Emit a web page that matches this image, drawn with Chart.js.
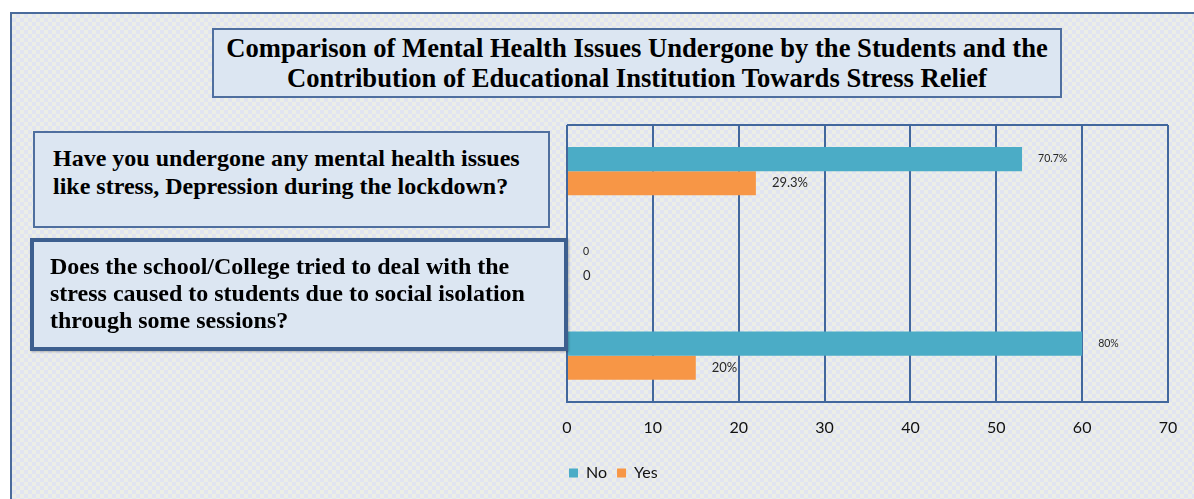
<!DOCTYPE html>
<html>
<head>
<meta charset="utf-8">
<script src="https://cdn.jsdelivr.net/npm/chart.js@4.4.0/dist/chart.umd.min.js"></script>
<style>
  html, body { margin: 0; padding: 0; background: #fff; }
  #frame { position: absolute; left: 0; top: 0; width: 1194px; height: 499px; overflow: hidden; }
  #panel {
    position: absolute; left: 10px; top: 12px; width: 1200px; height: 500px;
    border-left: 2px solid #4a6b9b; border-top: 2px solid #4a6b9b;
    background-color: #e8ebf1;
    background-image: repeating-conic-gradient(#e1e4f1 0 25%, #eceee6 0 50%);
    background-size: 8px 8px;
  }
  #myChart { position: absolute; left: 0; top: 0; }
  .box {
    position: absolute; box-sizing: border-box; background: #dce6f2; color: #000;
    font-family: "Liberation Serif", "Times New Roman", serif; font-weight: bold;
    white-space: nowrap;
  }
  #title {
    left: 212px; top: 28px; width: 850px; height: 70px;
    border: 2px solid #4f6f9f; text-align: center;
    font-size: 26.6px; line-height: 30px; padding-top: 3px;
  }
  #q1 {
    left: 33px; top: 131px; width: 517px; height: 97px;
    border: 2px solid #4f6f9f; font-size: 24px; line-height: 28px;
    padding: 11px 0 0 18px;
  }
  #q2 {
    left: 30px; top: 238px; width: 538px; height: 113px;
    border: 4px solid #3d5f8f; font-size: 24px; line-height: 27px;
    padding: 11px 0 0 16px; box-shadow: 1px 1px 2px rgba(0,0,0,0.25);
  }
</style>
</head>
<body>
<div id="frame">
  <div id="panel"></div>
  <canvas id="myChart" width="1194" height="499"></canvas>
  <div class="box" id="title"></div>
  <div class="box" id="q1"></div>
  <div class="box" id="q2"></div>
</div>
<script>
const chartTitle = ['Comparison of Mental Health Issues Undergone by the Students and the',
                    'Contribution of Educational Institution Towards Stress Relief'];
const questions = [
  ['Have you undergone any mental health issues', 'like stress, Depression during the lockdown?'],
  '',
  ['Does the school/College tried to deal with the', 'stress caused to students due to social isolation', 'through some sessions?']
];
// answer counts per question
const noCounts = [53, 0, 60];
const yesCounts = [22, 0, 15];
const xTicks = [0, 10, 20, 30, 40, 50, 60, 70];

document.getElementById('title').innerHTML = chartTitle.join('<br>');
document.getElementById('q1').innerHTML = questions[0].join('<br>');
document.getElementById('q2').innerHTML = questions[2].join('<br>');

// percentage of respondents, shown next to each bar
function pctLabel(di, i) {
  const total = noCounts[i] + yesCounts[i];
  const v = di === 0 ? noCounts[i] : yesCounts[i];
  if (!total) return '0';
  const p = Math.round(v / total * 1000) / 10;
  return p + '%';
}

const lineColor = '#41679c';

const barLabels = {
  id: 'barLabels',
  afterDatasetsDraw(chart) {
    const ctx = chart.ctx;
    const sizes = [10.5, 13];
    ctx.save();
    ctx.fillStyle = '#262626';
    ctx.textBaseline = 'middle';
    chart.data.datasets.forEach(function(ds, di) {
      chart.getDatasetMeta(di).data.forEach(function(bar, i) {
        ctx.font = sizes[di] + 'px Lato';
        ctx.fillText(pctLabel(di, i), bar.x + 16, bar.y);
      });
    });
    ctx.restore();
  },
  beforeDatasetsDraw(chart) {
    // top edge of the plot frame
    const a = chart.chartArea;
    const ctx = chart.ctx;
    ctx.save();
    ctx.strokeStyle = lineColor;
    ctx.lineWidth = 2;
    ctx.beginPath();
    ctx.moveTo(a.left, a.top);
    ctx.lineTo(a.right, a.top);
    ctx.stroke();
    ctx.restore();
  }
};

new Chart(document.getElementById('myChart'), {
  type: 'bar',
  data: {
    labels: questions,
    datasets: [
      { label: 'No', data: noCounts, backgroundColor: '#4bacc6' },
      { label: 'Yes', data: yesCounts, backgroundColor: '#f79646' }
    ]
  },
  options: {
    indexAxis: 'y',
    responsive: false,
    animation: false,
    categoryPercentage: 0.524,
    barPercentage: 1,
    layout: { padding: { left: 559, right: 26, top: 125, bottom: 8 } },
    scales: {
      x: {
        min: 0, max: 70,
        afterBuildTicks: function(axis) { axis.ticks = xTicks.map(function(v) { return { value: v }; }); },
        afterFit: function(axis) { axis.height += 2; },
        grid: { color: lineColor, lineWidth: 2, drawTicks: false },
        border: { color: lineColor, width: 2 },
        ticks: { color: '#111', font: { family: 'Lato', size: 16 }, padding: 16 }
      },
      y: {
        grid: { display: false },
        border: { display: false },
        ticks: { display: false }
      }
    },
    plugins: {
      legend: {
        position: 'bottom',
        align: 'start',
        labels: { boxWidth: 9, boxHeight: 9, padding: 10, color: '#111', font: { family: 'Lato', size: 16 } }
      },
      tooltip: { enabled: false }
    }
  },
  plugins: [barLabels]
});
</script>
</body>
</html>
